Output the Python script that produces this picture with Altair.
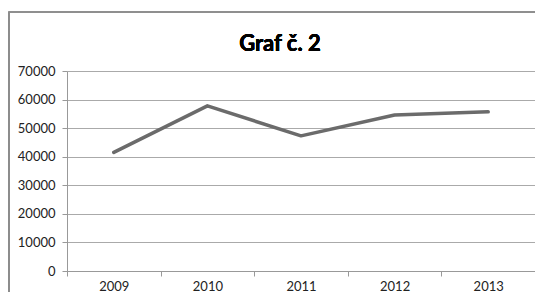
import altair as alt
import pandas as pd

years = ["2009", "2010", "2011", "2012", "2013"]
values = [41500, 57800, 47300, 54600, 55700]
y_ticks = [0, 10000, 20000, 30000, 40000, 50000, 60000, 70000]
title_text = "Graf č. 2"

df = pd.DataFrame({"rok": years, "hodnota": values})

FONT = "Lato"

line = alt.Chart(df).mark_line(color="#6b6b6b", strokeWidth=3.5, strokeCap="round", strokeJoin="round").encode(
    x=alt.X("rok:N", sort=years, title=None,
            axis=alt.Axis(labelAngle=0, tickBand="extent", domainColor="#999999", tickColor="#999999",
                          tickSize=5, labelPadding=4, labelFontSize=13, labelColor="#222222",
                          labelFont=FONT, grid=False)),
    y=alt.Y("hodnota:Q", title=None,
            scale=alt.Scale(domain=[0, 70000], nice=False),
            axis=alt.Axis(values=y_ticks, format="d", domainColor="#999999", tickColor="#999999",
                          tickSize=5, labelPadding=7, labelFontSize=13, labelColor="#222222",
                          labelFont=FONT, gridColor="#aaaaaa", gridWidth=1)),
)

border = alt.Chart(df).mark_rect(filled=False, stroke="#8c8c8c", strokeWidth=1.2, clip=False).encode(
    x=alt.value(-58), x2=alt.value(484), y=alt.value(-59), y2=alt.value(240)
)

title = alt.Chart(df).mark_text(font=FONT, fontSize=22, fontWeight="bold", color="#000000",
                                align="center", baseline="alphabetic").encode(
    x=alt.value(213), y=alt.value(-20), text=alt.value(title_text)
)

chart = alt.layer(border, line, title).properties(
    width=468, height=200,
    padding={"left": 59, "top": 63, "right": 0, "bottom": 21},
    autosize=alt.AutoSizeParams(type="none"),
).configure_view(stroke=None)

chart.save("out.html", embed_options={"renderer": "svg", "actions": False})
